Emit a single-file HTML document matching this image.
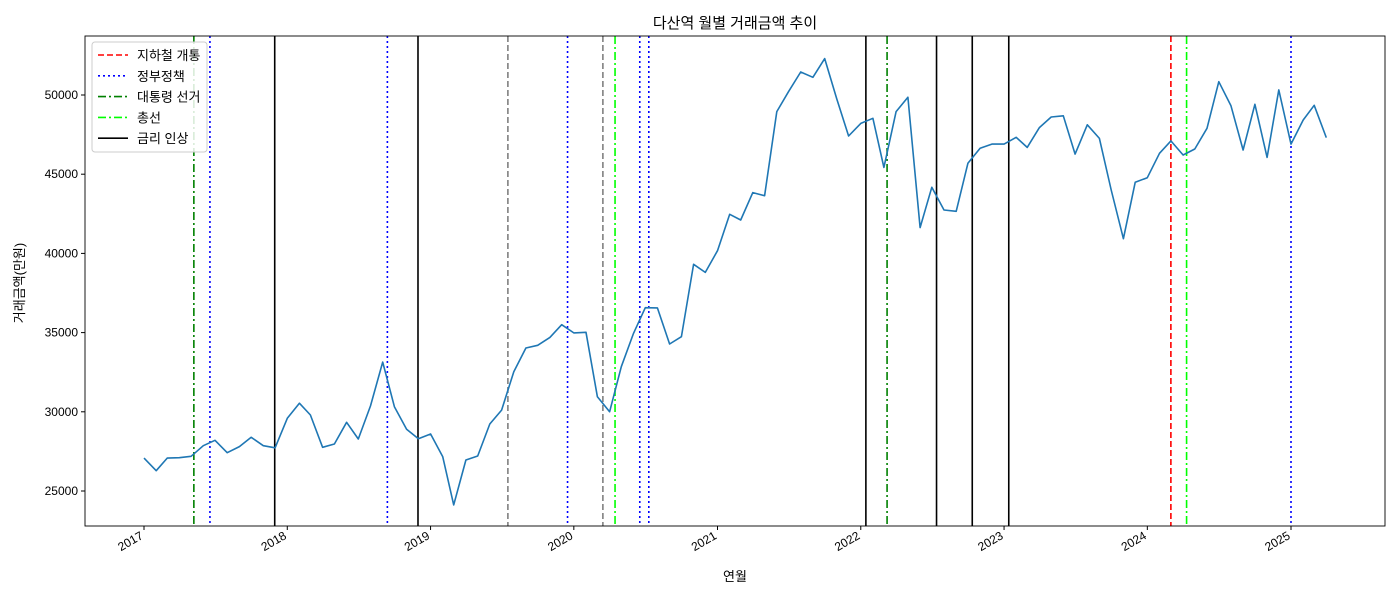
<!DOCTYPE html>
<html><head><meta charset="utf-8"><style>
body{margin:0;background:#fff;}
svg{display:block;font-family:"Liberation Sans","Noto Sans CJK KR",sans-serif;}
</style></head><body>
<svg id="chart" width="1400" height="600" xmlns="http://www.w3.org/2000/svg"></svg>
<script>
const months = [];
for (let i = 0; i < 100; i++) { months.push(new Date(Date.UTC(2017, i, 1))); }
const values = [27080,26280,27080,27100,27190,27860,28200,27420,27800,28390,27860,27730,
29590,30540,29800,27760,27970,29340,28280,30370,33140,30320,28900,28300,
28600,27170,24120,26960,27210,29230,30110,32530,34030,34200,34700,35500,
34980,35020,30950,30000,32850,34950,36570,36560,34280,34740,39310,38800,
40170,42470,42110,43840,43640,48950,50210,51450,51120,52300,49750,47410,
48210,48530,45430,48950,49860,41630,44170,42740,42660,45690,46640,46900,
46900,47330,46690,47940,48610,48690,46270,48120,47260,44000,40930,44490,
44780,46320,47100,46210,46590,47900,50840,49330,46530,49410,46060,50320,
46900,48420,49350,47310];
const yTicks = [25000,30000,35000,40000,45000,50000];
const xTicks = ["2017","2018","2019","2020","2021","2022","2023","2024","2025"];
const eventDates = ["2017-05-08","2017-06-18","2017-11-30","2018-09-13","2018-11-30","2019-07-17","2019-12-16","2020-03-15","2020-04-15","2020-06-17","2020-07-10","2022-01-14","2022-03-09","2022-07-13","2022-10-12","2023-01-13","2024-03-01","2024-04-10","2025-01-01"];
const eventTypes = ["election","policy","rate","policy","rate","other","policy","other","general","policy","policy","rate","election","rate","rate","rate","subway","general","policy"];
const legendLabels = ["지하철 개통","정부정책","대통령 선거","총선","금리 인상"];
const legendTypes = ["subway","policy","election","general","rate"];

const styles = {
  subway:{c:"#ff0000",d:"6,3"}, policy:{c:"#0000ff",d:"2,3"}, election:{c:"#008000",d:"8,3,2,3"},
  general:{c:"#00ff00",d:"8,3,2,3"}, rate:{c:"#000000",d:""}, other:{c:"#808080",d:"6,3"}
};
const L=85,R=1385,T=36,B=526;
const t0=Date.UTC(2017,0,1), pxPerDay=1147/2922;
function xs(d){return 144+(d-t0)/86400000*pxPerDay;}
function ys(v){return 491-(v-25000)*79.2/5000;}
const NS="http://www.w3.org/2000/svg";
const svg=document.getElementById('chart');
function el(tag,attrs,parent){const e=document.createElementNS(NS,tag);for(const k in attrs)e.setAttribute(k,attrs[k]);(parent||svg).appendChild(e);return e;}

// event lines
eventDates.forEach((ds,i)=>{
  const p=ds.split('-');const x=xs(Date.UTC(+p[0],+p[1]-1,+p[2]));
  const s=styles[eventTypes[i]];
  const ln=el('line',{x1:x,x2:x,y1:T,y2:B,stroke:s.c,'stroke-width':1.6,'stroke-dasharray':s.d});
  
  
});
// series
const pts=months.map((m,i)=>xs(m.getTime()).toFixed(1)+','+ys(values[i]).toFixed(1)).join(' ');
const line=el('polyline',{points:pts,fill:'none',stroke:'#1f77b4','stroke-width':1.6,'stroke-linejoin':'round'});


// frame
const fr=el('rect',{x:L,y:T,width:R-L,height:B-T,fill:'none',stroke:'#000','stroke-width':0.9});


// y ticks
yTicks.forEach(v=>{const y=ys(v);
  el('line',{x1:L-4,x2:L,y1:y,y2:y,stroke:'#000'});
  const t=el('text',{x:L-7,y:y+4,'text-anchor':'end','font-size':12});t.textContent=v;
  
  
});
// x ticks
xTicks.forEach(yr=>{const x=xs(Date.UTC(+yr,0,1));
  el('line',{x1:x,x2:x,y1:B,y2:B+4,stroke:'#000'});
  const t=el('text',{x:x,y:B+12,'text-anchor':'end','font-size':12,transform:`rotate(-30 ${x} ${B+12})`});t.textContent=yr;
  
  
});
// titles
let t=el('text',{x:735,y:28,'text-anchor':'middle','font-size':15});t.textContent='다산역 월별 거래금액 추이';


t=el('text',{x:735,y:581,'text-anchor':'middle','font-size':13});t.textContent='연월';


t=el('text',{x:24,y:283,'text-anchor':'middle','font-size':13,transform:'rotate(-90 24 283)'});t.textContent='거래금액(만원)';


// legend
const lg=el('rect',{x:92,y:42,width:115,height:110,rx:3,fill:'#fff','fill-opacity':0.85,stroke:'#ccc'});


legendLabels.forEach((lab,i)=>{const y=55+i*20.8;const s=styles[legendTypes[i]];
  el('line',{x1:98,x2:128,y1:y,y2:y,stroke:s.c,'stroke-width':1.6,'stroke-dasharray':s.d});
  const tx=el('text',{x:137,y:y+5,'font-size':13});tx.textContent=lab;
  
  
});
</script>
</body></html>
